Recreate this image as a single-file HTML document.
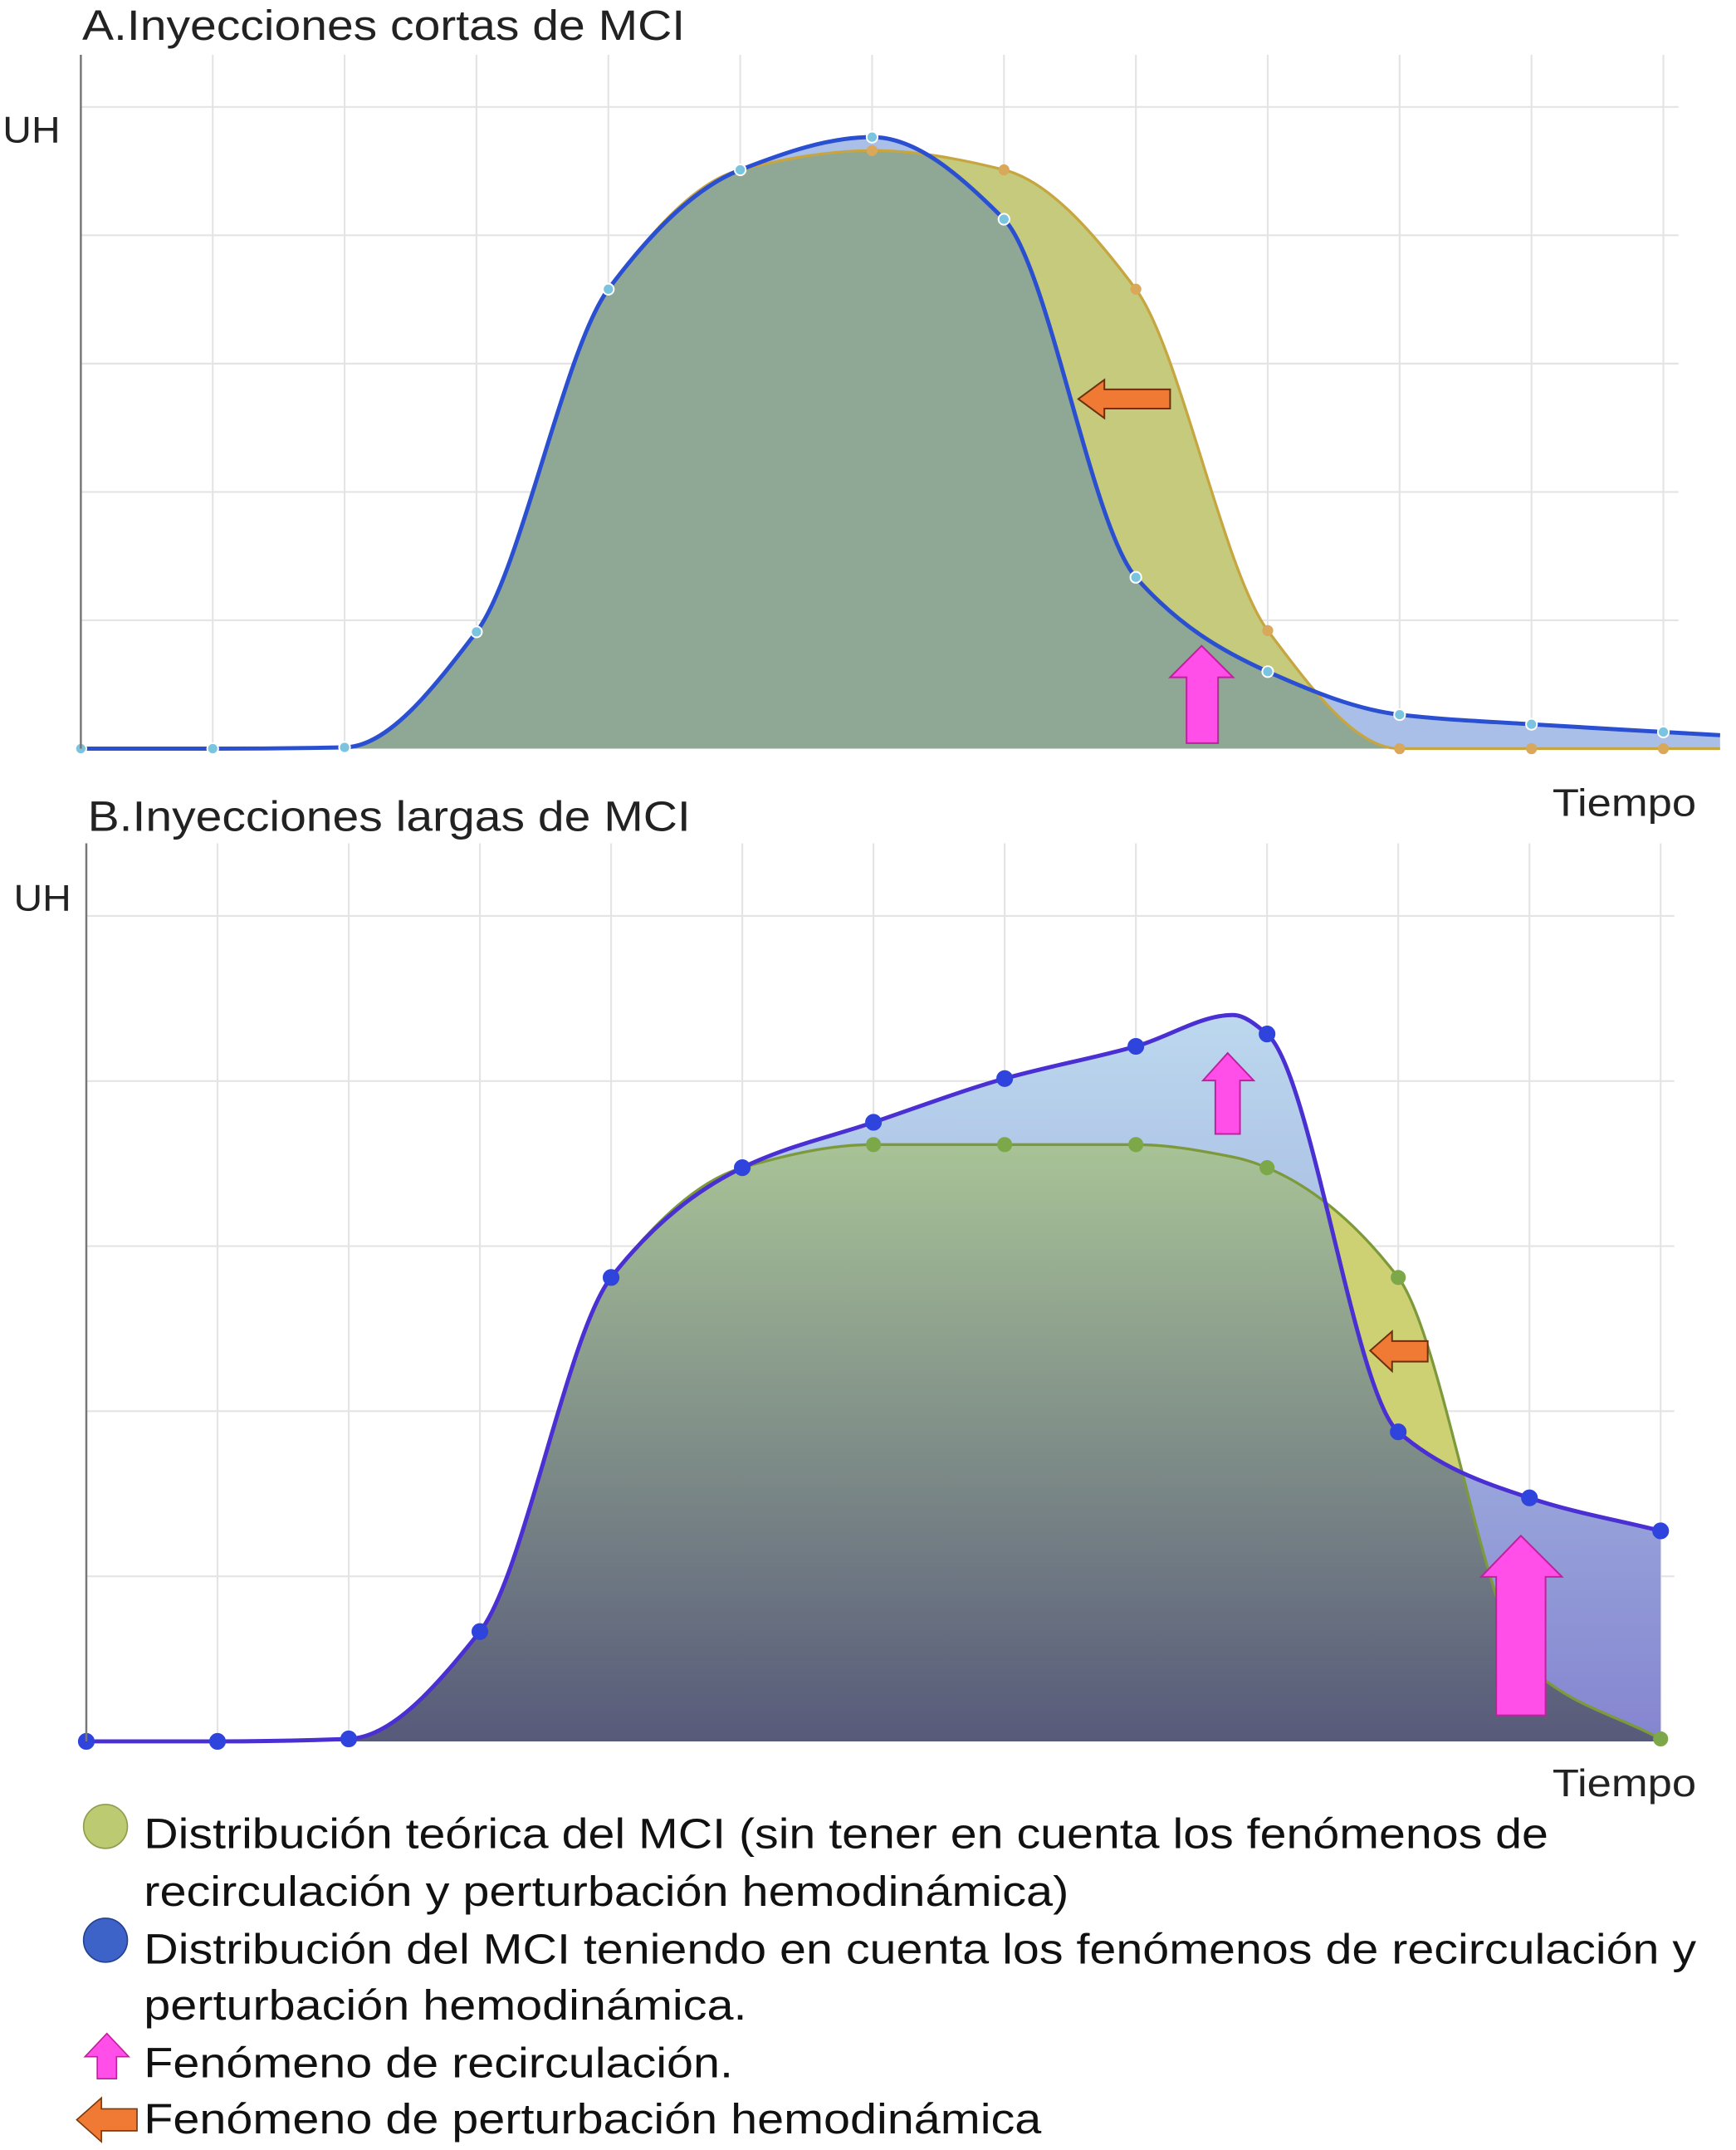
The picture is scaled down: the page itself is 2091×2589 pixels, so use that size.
<!DOCTYPE html>
<html><head><meta charset="utf-8">
<style>
html,body{margin:0;padding:0;background:#fff;}
svg{display:block;}
text{font-family:"Liberation Sans",sans-serif;}
</style></head>
<body>
<svg id="fig" width="2091" height="2589" viewBox="0 0 1267 1568" preserveAspectRatio="none" xmlns="http://www.w3.org/2000/svg">
<defs>
<linearGradient id="gB" x1="0" y1="830" x2="0" y2="1270" gradientUnits="userSpaceOnUse">
<stop offset="0" stop-color="#a9c497"/><stop offset="1" stop-color="#575a7a"/></linearGradient>
<linearGradient id="gBblue" x1="0" y1="740" x2="0" y2="1270" gradientUnits="userSpaceOnUse">
<stop offset="0" stop-color="#bcd8ee"/><stop offset="0.6" stop-color="#9aa8dc"/><stop offset="1" stop-color="#8585d0"/></linearGradient>
</defs>
<g id="chartA"></g>
<g id="chartB"></g>
<g id="legend">
<circle cx="77" cy="1332" r="16" fill="#bccb72" stroke="#8f9c4d" stroke-width="1"/>
<circle cx="77" cy="1415" r="16" fill="#3d63c8" stroke="#24408f" stroke-width="1"/>
<text x="105" y="1348" font-size="31" fill="#111" textLength="1025" lengthAdjust="spacingAndGlyphs">Distribución teórica del MCI (sin tener en cuenta los fenómenos de</text>
<text x="105" y="1390" font-size="31" fill="#111" textLength="675" lengthAdjust="spacingAndGlyphs">recirculación y perturbación hemodinámica)</text>
<text x="105" y="1432" font-size="31" fill="#111" textLength="1133" lengthAdjust="spacingAndGlyphs">Distribución del MCI teniendo en cuenta los fenómenos de recirculación y</text>
<text x="105" y="1473" font-size="31" fill="#111" textLength="440" lengthAdjust="spacingAndGlyphs">perturbación hemodinámica.</text>
<polygon points="78,1483 94,1500 85,1500 85,1516 71,1516 71,1500 62,1500" fill="#ff4fe8" stroke="#c0209f" stroke-width="1"/>
<text x="105" y="1515" font-size="31" fill="#111" textLength="430" lengthAdjust="spacingAndGlyphs">Fenómeno de recirculación.</text>
<polygon points="56,1546 74,1530 74,1538 100,1538 100,1554 74,1554 74,1562" fill="#f07a33" stroke="#7a3a10" stroke-width="1"/>
<text x="105" y="1556" font-size="31" fill="#111" textLength="655" lengthAdjust="spacingAndGlyphs">Fenómeno de perturbación hemodinámica</text>
</g>
</svg>
<script>
// ---- Chart A data ----
const aX = [0,1,2,3,4,5,6,7,8,9,10,11,12,12.43];
const aBlue = [0,0,0.2,18.2,71.6,90.2,95.3,82.5,26.7,12,5.3,3.8,2.6,2.1];
const aYellow = [0,0,0.2,18.2,71.6,90.2,93.2,90.2,71.6,18.4,0,0,0,0];
// ---- Chart B data ----
const bX = [0,1,2,3,4,5,6,7,8,8.74,9,10,11,12];
const bBlue = [0,0,0.3,13.3,56.2,69.5,75,80.3,84.2,88,85.7,37.5,29.5,25.5];
const bGreen = [0,0,0.3,13.3,56.2,69.5,72.3,72.3,72.3,70.8,69.5,56.2,9,0.3];
const ticksX = [0,1,2,3,4,5,6,7,8,9,10,11,12];

const NS="http://www.w3.org/2000/svg";
function mk(tag,attrs,parent){const e=document.createElementNS(NS,tag);for(const k in attrs)e.setAttribute(k,attrs[k]);parent.appendChild(e);return e;}

function smoothPath(pts){
  const n=pts.length, d=[], m=new Array(n);
  for(let i=0;i<n-1;i++) d.push((pts[i+1][1]-pts[i][1])/(pts[i+1][0]-pts[i][0]));
  m[0]=d[0]; m[n-1]=d[n-2];
  for(let i=1;i<n-1;i++){
    if(d[i-1]*d[i]<=0) m[i]=0;
    else { const h0=pts[i][0]-pts[i-1][0], h1=pts[i+1][0]-pts[i][0];
      const w1=2*h1+h0, w2=h1+2*h0; m[i]=(w1+w2)/(w1/d[i-1]+w2/d[i]); }
  }
  let s=`M${pts[0][0]},${pts[0][1]}`;
  for(let i=0;i<n-1;i++){
    const h=(pts[i+1][0]-pts[i][0])/3;
    s+=` C${pts[i][0]+h},${pts[i][1]+m[i]*h} ${pts[i+1][0]-h},${pts[i+1][1]-m[i+1]*h} ${pts[i+1][0]},${pts[i+1][1]}`;
  }
  return s;
}

function drawChart(g,cfg){
  const sx=v=>cfg.x0+v*cfg.dx, sy=v=>cfg.base-v*cfg.py;
  ticksX.forEach(t=>{const l=mk('line',{x1:sx(t),x2:sx(t),y1:cfg.top,y2:cfg.base,stroke:'#e4e4e4','stroke-width':1.3},g);
    
    });
  cfg.hgrid.forEach(v=>{const l=mk('line',{x1:cfg.x0,x2:cfg.xEnd,y1:sy(v),y2:sy(v),stroke:'#e4e4e4','stroke-width':1.3},g);
    
    });
  const ptsB=cfg.xs.map((x,i)=>[sx(x),sy(cfg.blue[i])]);
  const ptsY=cfg.xs.map((x,i)=>[sx(x),sy(cfg.yel[i])]);
  const lineB=smoothPath(ptsB), lineY=smoothPath(ptsY);
  const lastX=ptsB[ptsB.length-1][0];
  const areaB=lineB+` L${lastX},${cfg.base} L${ptsB[0][0]},${cfg.base} Z`;
  const areaY=lineY+` L${lastX},${cfg.base} L${ptsY[0][0]},${cfg.base} Z`;
  const cid='clip'+cfg.id;
  const cp=mk('clipPath',{id:cid},g); mk('path',{d:areaY},cp);
  const a1=mk('path',{d:areaB,fill:cfg.blueFill},g);
  
  
  const a2=mk('path',{d:areaY,fill:cfg.yelFill},g);
  
  
  const a3=mk('path',{d:areaB,fill:cfg.overFill,'clip-path':`url(#${cid})`},g);
  
  
  const l1=mk('path',{d:lineY,fill:'none',stroke:cfg.yelStroke,'stroke-width':2},g);
  
  
  const l2=mk('path',{d:lineB,fill:'none',stroke:cfg.blueStroke,'stroke-width':3},g);
  
  
  ticksX.forEach(t=>{
    const i=cfg.xs.indexOf(t); if(i<0)return;
    const c1=mk('circle',{cx:sx(t),cy:sy(cfg.yel[i]),r:cfg.mr,fill:cfg.yelMark},g);
    
    
    const c2=mk('circle',{cx:sx(t),cy:sy(cfg.blue[i]),r:cfg.mr,fill:cfg.blueMark,stroke:cfg.blueMarkStroke,'stroke-width':1.2},g);
    
    
  });
  const ax=mk('line',{x1:cfg.x0,x2:cfg.x0,y1:cfg.top,y2:cfg.base,stroke:'#777','stroke-width':1.5},g);
  
  
}

drawChart(document.getElementById('chartA'),{id:'A',x0:59,dx:96.25,base:546,py:4.68,top:40,xEnd:1225,
  hgrid:[20,40,60,80,100],xs:aX,blue:aBlue,yel:aYellow,
  blueFill:'#aabfe8',yelFill:'#c5ca7c',overFill:'#8fa795',yelStroke:'#c6a640',blueStroke:'#2a4fd0',
  mr:4,yelMark:'#d9a85a',blueMark:'#7ac4e0',blueMarkStroke:'#ffffff'});
drawChart(document.getElementById('chartB'),{id:'B',x0:63,dx:95.75,base:1270,py:6.02,top:615,xEnd:1222,
  hgrid:[20,40,60,80,100],xs:bX,blue:bBlue,yel:bGreen,
  blueFill:'url(#gBblue)',yelFill:'#cdd173',overFill:'url(#gB)',yelStroke:'#7c9a3c',blueStroke:'#4a30d2',
  mr:5.5,yelMark:'#7ca84a',blueMark:'#2f44dc',blueMarkStroke:'#2f44dc'});

const svg=document.getElementById('fig');
function txt(x,y,s,str,name,len){const t=mk('text',{x:x,y:y,'font-size':s,fill:'#222',textLength:len,lengthAdjust:'spacingAndGlyphs'},svg);t.textContent=str;
  
  }
txt(60,29,31,'A.Inyecciones cortas de MCI','title-a',440);
txt(2,104,27,'UH','y-axis-title-a',42);
txt(1133,595,28,'Tiempo','x-axis-title-a',105);
txt(64,606,31,'B.Inyecciones largas de MCI','title-b',440);
txt(10,664,27,'UH','y-axis-title-b',42);
txt(1133,1310,28,'Tiempo','x-axis-title-b',105);
function arrow(pts,fill,stroke,name){const p=mk('polygon',{points:pts,fill:fill,stroke:stroke,'stroke-width':1.2},svg);
  
  }
arrow('787,291 806,277 806,284 854,284 854,298 806,298 806,305','#f07a33','#6a3010','arrow-perturbation-a');
arrow('877,471 900,494 889,494 889,542 866,542 866,494 854,494','#ff4fe8','#c0209f','arrow-recirculation-a');
arrow('896,768 915,788 905,788 905,827 887,827 887,788 878,788','#ff4fe8','#c0209f','arrow-recirculation-b1');
arrow('1000,985 1016,971 1016,978 1042,978 1042,993 1016,993 1016,1000','#f07a33','#6a3010','arrow-perturbation-b');
arrow('1110,1120 1140,1150 1128,1150 1128,1251 1092,1251 1092,1150 1081,1150','#ff4fe8','#c0209f','arrow-recirculation-b2');
</script>
</body></html>
